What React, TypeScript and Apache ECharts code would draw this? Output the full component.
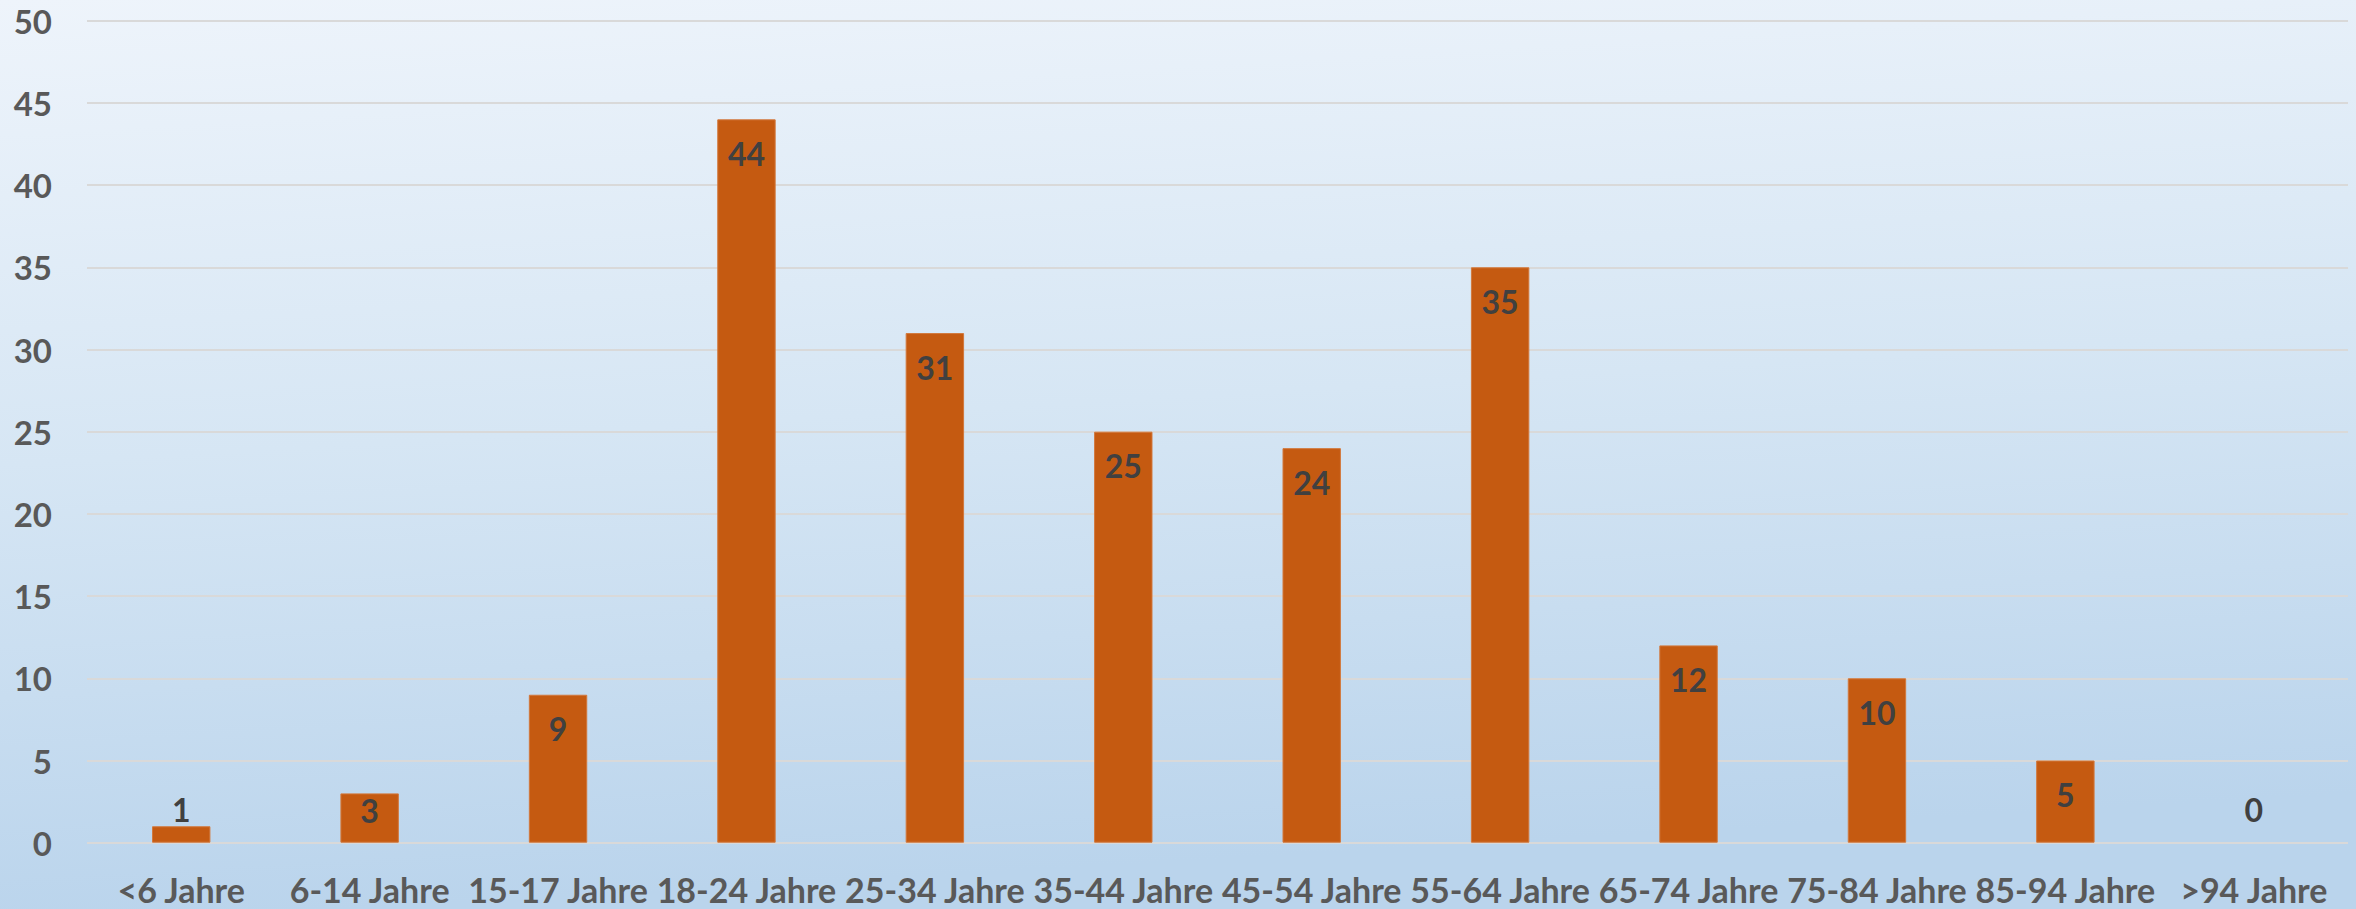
import React, { useEffect, useRef } from "react";
import * as echarts from "echarts";

const categories = [
  "<6 Jahre", "6-14 Jahre", "15-17 Jahre", "18-24 Jahre", "25-34 Jahre", "35-44 Jahre",
  "45-54 Jahre", "55-64 Jahre", "65-74 Jahre", "75-84 Jahre", "85-94 Jahre", ">94 Jahre",
];
const values = [1, 3, 9, 44, 31, 25, 24, 35, 12, 10, 5, 0];
const yTicks = { min: 0, max: 50, interval: 5 };

const FONT = "Lato";

export default function App() {
  const ref = useRef<HTMLDivElement>(null);
  useEffect(() => {
    document.body.style.margin = "0";
    const chart = echarts.init(ref.current!, null, { renderer: "svg" });
    const data = values.map((v) => {
      let label: any;
      if (v >= 5) label = { position: "insideTop", distance: 18 };
      else if (v >= 3) label = { position: "insideTop", distance: 1 };
      else if (v >= 1) label = { position: "top", distance: 1 };
      else label = { position: "top", distance: 17 };
      return { value: v, label, itemStyle: v === 0 ? { borderWidth: 0 } : undefined };
    });
    chart.setOption({
      animation: false,
      backgroundColor: {
        type: "linear", x: 0, y: 0, x2: 0.15, y2: 1,
        colorStops: [
          { offset: 0, color: "#eef4fb" },
          { offset: 0.5, color: "#d6e6f4" },
          { offset: 1, color: "#bad4ec" },
        ],
      },
      grid: { left: 87, right: 8, top: 20.7, bottom: 66.3, containLabel: false },
      xAxis: {
        type: "category",
        data: categories,
        axisLine: { show: false },
        axisTick: { show: false },
        axisLabel: {
          interval: 0,
          margin: 30,
          color: "#595959",
          fontFamily: FONT,
          fontWeight: "bold",
          fontSize: 34,
        },
      },
      yAxis: {
        type: "value",
        min: yTicks.min,
        max: yTicks.max,
        interval: yTicks.interval,
        axisLine: { show: false },
        axisTick: { show: false },
        splitLine: { lineStyle: { color: "#d9d9d9", width: 2 } },
        axisLabel: {
          margin: 35,
          color: "#595959",
          fontFamily: FONT,
          fontWeight: "bold",
          fontSize: 33,
        },
      },
      series: [
        {
          type: "bar",
          data,
          barWidth: "31%",
          itemStyle: { color: "#c55a11", borderColor: "#d2783c", borderWidth: 1 },
          label: {
            show: true,
            color: "#404040",
            fontFamily: FONT,
            fontWeight: "bold",
            fontSize: 32,
          },
        },
      ],
    });
    return () => chart.dispose();
  }, []);
  return <div ref={ref} style={{ position: "fixed", left: 0, top: 0, width: 2356, height: 909 }} />;
}
